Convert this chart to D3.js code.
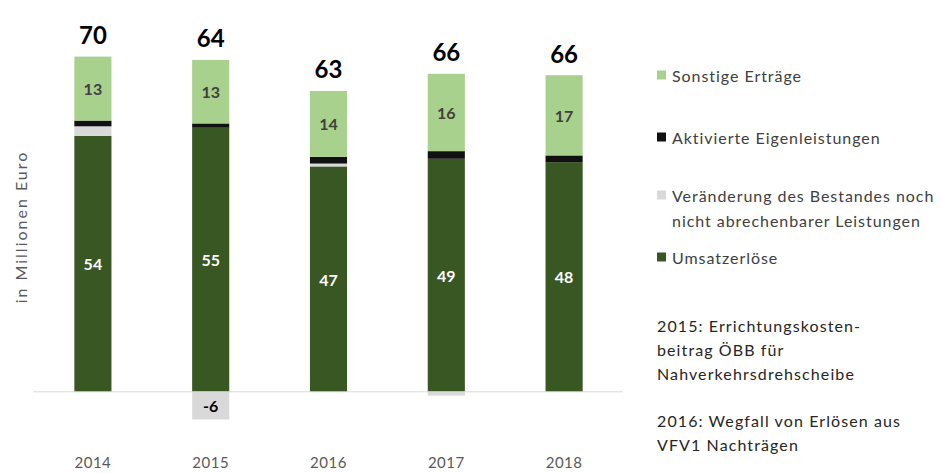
<!DOCTYPE html>
<html>
<head>
<meta charset="utf-8">
<script src="https://cdn.jsdelivr.net/npm/d3@7"></script>
<style>
  html, body { margin: 0; padding: 0; background: #fff; }
  svg { display: block; font-family: Lato, "Open Sans", sans-serif; }
</style>
</head>
<body>
<svg id="chart" width="941" height="473"></svg>
<script>
// Jahre und Ertragskomponenten (Mio. Euro)
const years = ["2014", "2015", "2016", "2017", "2018"];
const umsatzerloese = [53.6, 55.3, 47.2, 48.8, 48.1];
const bestandsveraenderung = [2.0, -5.8, 0.6, -0.8, 0.0];
const eigenleistungen = [1.2, 0.9, 1.4, 1.6, 1.4];
const sonstigeErtraege = [13.4, 13.3, 13.8, 16.2, 16.8];

const seriesNames = ["Umsatzerlöse", "Veränderung", "Aktivierte", "Sonstige"];
const legendLabels = [
  ["Sonstige Erträge"],
  ["Aktivierte Eigenleistungen"],
  ["Veränderung des Bestandes noch", "nicht abrechenbarer Leistungen"],
  ["Umsatzerlöse"]
];
const notes = [
  ["2015: Errichtungskosten-", "beitrag ÖBB für", "Nahverkehrsdrehscheibe"],
  ["2016: Wegfall von Erlösen aus", "VFV1 Nachträgen"]
];

const colors = {
  "Umsatzerlöse": "#385723",
  "Veränderung": "#d9d9d9",
  "Aktivierte": "#111111",
  "Sonstige": "#a9d18e"
};
const labelColors = {
  "Umsatzerlöse": "#ffffff",
  "Veränderung": "#000000",
  "Aktivierte": "#ffffff",
  "Sonstige": "#404040"
};

const rows = years.map((y, i) => ({
  year: y,
  "Umsatzerlöse": umsatzerloese[i],
  "Veränderung": bestandsveraenderung[i],
  "Aktivierte": eigenleistungen[i],
  "Sonstige": sonstigeErtraege[i]
}));

// ganze Zahl mit normalem Bindestrich als Minuszeichen
const fmt = v => String(Math.round(v));

const svg = d3.select("#chart");

const x = d3.scaleBand().domain(years).range([34, 623]).paddingInner(0.685).paddingOuter(0.3425);
const y = d3.scaleLinear().domain([-8, 72]).range([430, 48]);

const stacked = d3.stack()
  .keys(seriesNames)
  .offset(d3.stackOffsetDiverging)(rows);

// Balkensegmente
const layers = svg.append("g").selectAll("g")
  .data(stacked)
  .join("g")
  .attr("fill", d => colors[d.key]);

layers.selectAll("rect")
  .data(d => d.map(v => ({ key: d.key, v })))
  .join("rect")
  .attr("x", d => x(d.v.data.year))
  .attr("width", x.bandwidth())
  .attr("y", d => y(Math.max(d.v[0], d.v[1])))
  .attr("height", d => Math.abs(y(d.v[0]) - y(d.v[1])));

// Nulllinie
svg.append("line")
  .attr("x1", 33).attr("x2", 623)
  .attr("y1", y(0)).attr("y2", y(0))
  .attr("stroke", "#d9d9d9").attr("stroke-width", 1);

// Segmentbeschriftungen
const segLabels = [];
stacked.forEach(s => s.forEach(v => {
  const val = v.data[s.key];
  if (Math.abs(val) >= 3) segLabels.push({ key: s.key, v, val });
}));
svg.append("g").selectAll("text")
  .data(segLabels)
  .join("text")
  .attr("x", d => x(d.v.data.year) + x.bandwidth() / 2)
  .attr("y", d => y((d.v[0] + d.v[1]) / 2))
  .attr("text-anchor", "middle")
  .attr("dominant-baseline", "central")
  .attr("font-size", 16)
  .attr("font-weight", "bold")
  .attr("fill", d => labelColors[d.key])
  .text(d => fmt(d.val));

// Summen über den Balken
svg.append("g").selectAll("text")
  .data(rows)
  .join("text")
  .attr("x", d => x(d.year) + x.bandwidth() / 2)
  .attr("y", d => {
    const pos = seriesNames.reduce((a, k) => a + Math.max(0, d[k]), 0);
    return y(pos) - 22;
  })
  .attr("text-anchor", "middle")
  .attr("dominant-baseline", "central")
  .attr("font-size", 24)
  .attr("font-weight", "bold")
  .attr("fill", "#000")
  .text(d => fmt(seriesNames.reduce((a, k) => a + d[k], 0)));

// Jahresachse
const xAxis = svg.append("g")
  .attr("transform", `translate(0,${457})`)
  .call(d3.axisBottom(x).tickSize(0).tickPadding(0));
xAxis.select(".domain").remove();
xAxis.selectAll("text")
  .attr("font-family", "Lato, sans-serif")
  .attr("font-size", 15)
  .attr("letter-spacing", 0.5)
  .attr("fill", "#595959");

// Achsentitel
svg.append("text")
  .attr("transform", `translate(20,227) rotate(-90)`)
  .attr("text-anchor", "middle")
  .attr("dominant-baseline", "central")
  .attr("font-size", 16)
  .attr("letter-spacing", 2)
  .attr("fill", "#595959")
  .text("in Millionen Euro");

// Legende
const legendY = [75, 137, 195, 257];
const legendKeys = ["Sonstige", "Aktivierte", "Veränderung", "Umsatzerlöse"];
const legend = svg.append("g");
legendKeys.forEach((k, i) => {
  legend.append("rect")
    .attr("x", 657).attr("y", legendY[i] - 4.5)
    .attr("width", 9).attr("height", 9)
    .attr("fill", colors[k]);
  legendLabels[i].forEach((line, j) => {
    legend.append("text")
      .attr("x", 672).attr("y", legendY[i] + j * 25)
      .attr("dominant-baseline", "central")
      .attr("font-size", 16)
      .attr("letter-spacing", 0.95)
      .attr("fill", "#404040")
      .text(line);
  });
});

// Anmerkungen
const noteY = [325, 420];
notes.forEach((lines, i) => {
  lines.forEach((line, j) => {
    svg.append("text")
      .attr("x", 657).attr("y", noteY[i] + j * 24)
      .attr("dominant-baseline", "central")
      .attr("font-size", 16)
      .attr("letter-spacing", 1.1)
      .attr("fill", "#262626")
      .text(line);
  });
});
</script>
</body>
</html>
